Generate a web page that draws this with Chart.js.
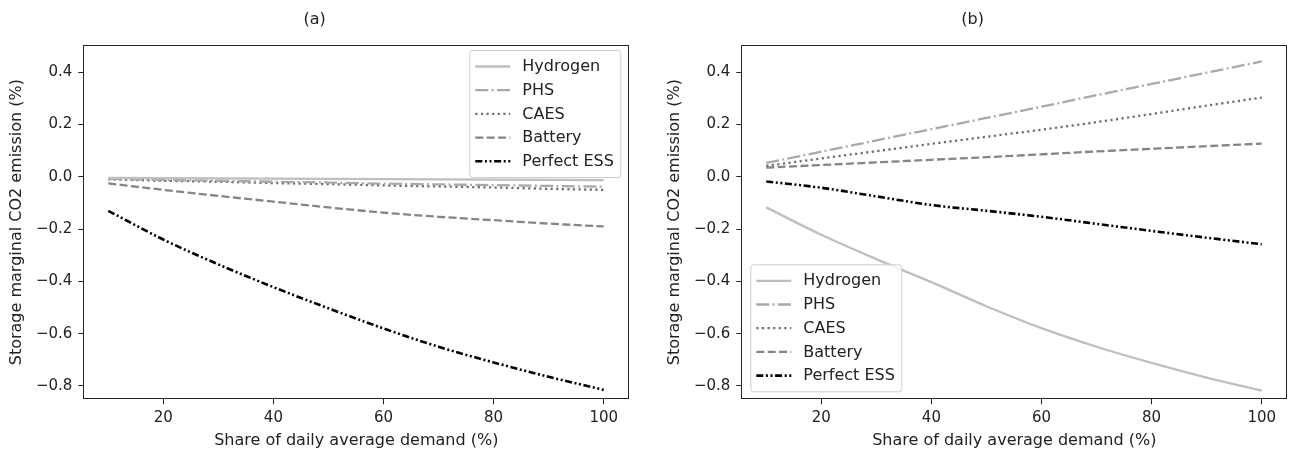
<!DOCTYPE html>
<html>
<head>
<meta charset="utf-8">
<title>Storage marginal CO2 emission</title>
<script src="https://cdn.jsdelivr.net/npm/chart.js@4.4.1/dist/chart.umd.min.js"></script>
<style>
  html, body { margin: 0; padding: 0; background: #fff; }
  #wrap { position: relative; width: 1291px; height: 453px; overflow: hidden; }
  canvas { position: absolute; top: 0; }
</style>
</head>
<body>
<div id="wrap">
  <canvas id="chart-a" width="645" height="453" style="left:0px;width:645px;height:453px"></canvas>
  <canvas id="chart-b" width="633" height="453" style="left:658px;width:633px;height:453px"></canvas>
</div>
<script>
// Share of daily average demand (%)
const shares = [10, 20, 30, 40, 50, 60, 70, 80, 90, 100];
const seriesNames = ['Hydrogen', 'PHS', 'CAES', 'Battery', 'Perfect ESS'];

// panel (a)
const hydrogenA = [-0.004, -0.005, -0.006, -0.007, -0.008, -0.009, -0.010, -0.011, -0.012, -0.013];
const phsA      = [-0.008, -0.012, -0.015, -0.019, -0.022, -0.026, -0.029, -0.032, -0.035, -0.038];
const caesA     = [-0.010, -0.015, -0.019, -0.024, -0.028, -0.033, -0.037, -0.041, -0.046, -0.050];
const batteryA  = [-0.025, -0.050, -0.073, -0.095, -0.117, -0.137, -0.153, -0.166, -0.179, -0.190];
const perfectA  = [-0.130, -0.240, -0.335, -0.422, -0.503, -0.580, -0.650, -0.710, -0.765, -0.815];

// panel (b)
const hydrogenB = [-0.117, -0.222, -0.315, -0.403, -0.495, -0.579, -0.650, -0.712, -0.768, -0.818];
const phsB      = [0.053, 0.096, 0.139, 0.182, 0.225, 0.268, 0.312, 0.355, 0.398, 0.441];
const caesB     = [0.042, 0.070, 0.098, 0.126, 0.153, 0.180, 0.209, 0.240, 0.272, 0.303];
const batteryB  = [0.035, 0.045, 0.055, 0.065, 0.075, 0.086, 0.097, 0.107, 0.117, 0.127];
const perfectB  = [-0.018, -0.042, -0.075, -0.108, -0.130, -0.153, -0.180, -0.207, -0.233, -0.258];

const xTicks = [20, 40, 60, 80, 100];
const yTicks = [-0.8, -0.6, -0.4, -0.2, 0.0, 0.2, 0.4];
const yTickLabels = ['\u22120.8', '\u22120.6', '\u22120.4', '\u22120.2', '0.0', '0.2', '0.4'];

const FONT = "'DejaVu Sans', sans-serif";
const INK = '#222222';

// line looks per series: colour, width, dash
const styles = [
  { color: '#bfbfbf', width: 2.3, dash: [] },
  { color: '#a9a9a9', width: 2.3, dash: [13, 3.3, 2, 3.3] },
  { color: '#6e6e6e', width: 2.3, dash: [2.2, 3.4] },
  { color: '#858585', width: 2.3, dash: [8, 3.4] },
  { color: '#000000', width: 2.6, dash: [7, 2.6, 2, 2.6, 2, 2.6] }
];

function makeDatasets(values) {
  return values.map((data, i) => ({
    label: seriesNames[i],
    data: data,
    borderColor: styles[i].color,
    borderWidth: styles[i].width,
    borderDash: styles[i].dash,
    borderCapStyle: 'butt',
    pointRadius: 0,
    fill: false,
    cubicInterpolationMode: 'monotone'
  }));
}

// box around the whole plot area
const framePlugin = {
  id: 'frame',
  afterDraw(chart) {
    const a = chart.chartArea;
    const ctx = chart.ctx;
    ctx.save();
    ctx.strokeStyle = INK;
    ctx.lineWidth = 1;
    ctx.strokeRect(Math.round(a.left) + 0.5, Math.round(a.top) + 0.5,
      Math.round(a.right - a.left) - 1, Math.round(a.bottom - a.top) - 1);
    ctx.restore();
  }
};

// legend drawn inside the plot area
const insideLegend = {
  id: 'insideLegend',
  afterDatasetsDraw(chart, args, opts) {
    const a = chart.chartArea;
    const ctx = chart.ctx;
    const w = 151, h = 127, rowH = 23.7;
    const x = opts.corner === 'upper right' ? a.right - 9 - w : a.left + 9;
    const y = opts.corner === 'upper right' ? a.top + 5 : a.bottom - 8 - h;
    ctx.save();
    ctx.beginPath();
    ctx.roundRect(x + 0.5, y + 0.5, w, h, 3);
    ctx.fillStyle = 'rgba(255,255,255,0.8)';
    ctx.fill();
    ctx.strokeStyle = '#cccccc';
    ctx.lineWidth = 1;
    ctx.stroke();
    ctx.font = '16px ' + FONT;
    ctx.textBaseline = 'middle';
    chart.data.datasets.forEach((ds, i) => {
      const cy = y + 16.5 + i * rowH;
      ctx.beginPath();
      ctx.setLineDash(ds.borderDash);
      ctx.lineCap = 'butt';
      ctx.strokeStyle = ds.borderColor;
      ctx.lineWidth = ds.borderWidth;
      ctx.moveTo(x + 6, cy);
      ctx.lineTo(x + 41, cy);
      ctx.stroke();
      ctx.setLineDash([]);
      ctx.fillStyle = INK;
      ctx.fillText(ds.label, x + 53, cy + 0.5);
    });
    ctx.restore();
  }
};

function makeChart(id, title, values, corner, rightPad) {
  const ctx = document.getElementById(id).getContext('2d');
  return new Chart(ctx, {
    type: 'line',
    data: {
      labels: shares,
      datasets: makeDatasets(values)
    },
    options: {
      responsive: false,
      animation: false,
      devicePixelRatio: 1,
      layout: { padding: { left: 0, right: rightPad, top: 0, bottom: 0 } },
      plugins: {
        legend: { display: false },
        tooltip: { enabled: false },
        title: {
          display: true,
          text: title,
          color: INK,
          font: { family: FONT, size: 16, weight: 'normal' },
          padding: { top: 10, bottom: 15.8 }
        },
        insideLegend: { corner: corner }
      },
      scales: {
        x: {
          type: 'linear',
          min: 5.47,
          max: 104.65,
          afterBuildTicks: (scale) => { scale.ticks = xTicks.map(v => ({ value: v })); },
          afterFit: (scale) => { scale.height = 53.7; },
          ticks: {
            color: INK,
            font: { family: FONT, size: 15 },
            padding: 5,
            maxRotation: 0,
            autoSkip: false
          },
          grid: { drawOnChartArea: false, drawTicks: true, tickLength: 5, color: INK },
          border: { display: false },
          title: {
            display: true,
            text: 'Share of daily average demand (%)',
            color: INK,
            font: { family: FONT, size: 16 },
            padding: { top: 0, bottom: 2.9 }
          }
        },
        y: {
          type: 'linear',
          min: -0.851,
          max: 0.504,
          afterBuildTicks: (scale) => { scale.ticks = yTicks.map(v => ({ value: v })); },
          afterFit: (scale) => { scale.width = 83.3; },
          ticks: {
            color: INK,
            font: { family: FONT, size: 15 },
            padding: 6,
            autoSkip: false,
            callback: (value) => {
              const k = yTicks.findIndex(t => Math.abs(t - value) < 1e-9);
              return k >= 0 ? yTickLabels[k] : '';
            }
          },
          grid: { drawOnChartArea: false, drawTicks: true, tickLength: 5, color: INK },
          border: { display: false },
          title: {
            display: true,
            text: 'Storage marginal CO2 emission (%)',
            color: INK,
            font: { family: FONT, size: 16 },
            padding: { top: 7.4, bottom: 0 }
          }
        }
      }
    },
    plugins: [framePlugin, insideLegend]
  });
}

makeChart('chart-a', '(a)', [hydrogenA, phsA, caesA, batteryA, perfectA], 'upper right', 15.7);
makeChart('chart-b', '(b)', [hydrogenB, phsB, caesB, batteryB, perfectB], 'lower left', 3.7);
</script>
</body>
</html>
